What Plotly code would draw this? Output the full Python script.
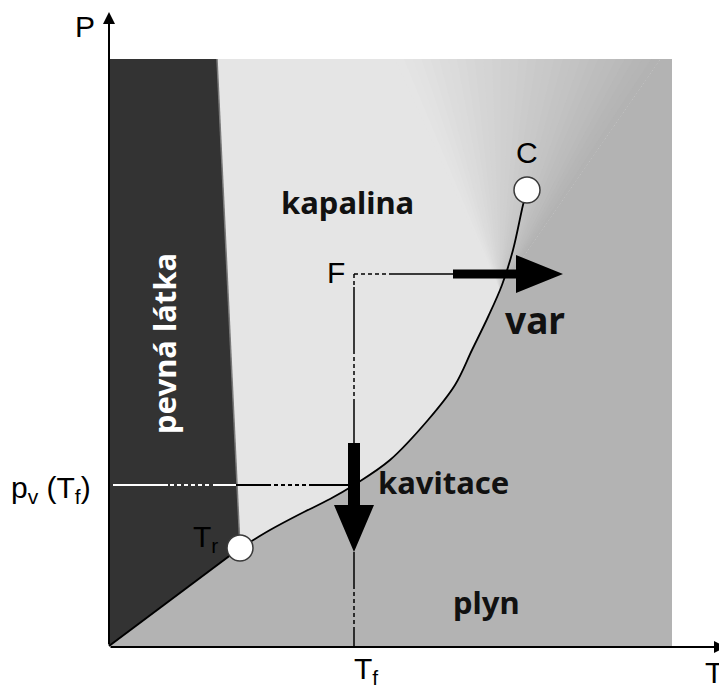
import plotly.graph_objects as go

# ---------------- data (diagram units: T horizontal, P vertical) ----------------
T_RANGE = [-101, 618]              # visible T range (axis origin at 0)
P_RANGE = [-45, 638]               # visible P range (axis origin at 0)
T_FIELD, P_FIELD = 563, 587        # extent of the shaded phase field

triple_T, triple_P = 131, 98       # triple point Tr
crit_T, crit_P = 418, 456          # critical point C

sub_T = [0, 131]                   # sublimation curve
sub_P = [0, 98]
melt_T = [131, 108]                # melting curve
melt_P = [98, 587]
vap_T = [131, 146, 161, 191, 221, 245, 281, 319, 346, 363, 379, 393, 404, 414, 418]
vap_P = [98, 107, 116, 132, 147, 161, 186, 226, 261, 296, 329, 361, 396, 441, 456]

F_T, F_P = 245, 372                # state point F
T_f = 245
p_v = 161

# supercritical blend fan (apex on the curve, edge along top)
fan_apex = (391, 356)
fan_top_T = [286 + i * (551 - 286) / 30 for i in range(31)]

# thin guide segments: (from, to, dash)
vert_segments = [(372, 359, "dash"), (359, 296, "solid"), (296, 246, "dash"),
                 (246, 203, "solid"), (94, 61, "solid"), (61, 18, "dash"), (18, 0, "solid")]
horiz_segments = [(245, 283, "dash"), (283, 344, "solid")]
pv_segments = [(4, 59, "solid", "white"), (61, 103, "dash", "white"), (104, 127, "solid", "white"),
               (127, 158, "solid", "black"), (158, 201, "dash", "black"), (201, 245, "solid", "black")]

# thick arrows (bar start, head base, head tip, bar half width, head half width)
arrow_h = (344, 407, 454, 4.5, 19)
arrow_v = (203, 141, 94, 6, 20)

C_DARK = "#333333"
C_LIQ = (229, 229, 229)
C_GAS = (179, 179, 179)

fig = go.Figure()

def poly(xs, ys, color):
    fig.add_trace(go.Scatter(x=xs, y=ys, fill="toself", fillcolor=color, mode="lines",
                             line=dict(width=0, color=color), hoverinfo="skip"))

def seg(xs, ys, color, width=1.5, dash="solid", shape="linear"):
    fig.add_trace(go.Scatter(x=xs, y=ys, mode="lines", hoverinfo="skip",
                             line=dict(color=color, width=width, dash=dash, shape=shape)))

# gas field
poly([0, T_FIELD, T_FIELD, 0], [0, 0, P_FIELD, P_FIELD], "rgb(179,179,179)")
# liquid field
liq_T = [melt_T[1], crit_T, crit_T] + vap_T[::-1][1:] + [melt_T[0]]
liq_P = [P_FIELD, P_FIELD, crit_P] + vap_P[::-1][1:] + [melt_P[0]]
poly(liq_T, liq_P, "rgb(229,229,229)")
# supercritical gradient fan
n = len(fan_top_T) - 1
for k in range(n):
    t = k / (n - 1)
    c = tuple(round(C_LIQ[j] + (C_GAS[j] - C_LIQ[j]) * t) for j in range(3))
    poly([fan_apex[0], fan_top_T[k], fan_top_T[-1]],
         [fan_apex[1], P_FIELD, P_FIELD], "rgb(%d,%d,%d)" % c)
# solid field
poly([0, 0, melt_T[1], melt_T[0], 0], [0, P_FIELD, melt_P[1], melt_P[0], 0], C_DARK)
seg(melt_T, melt_P, "#7a7a7a", 1.5)

# phase boundaries
seg(sub_T, sub_P, "black", 2)
seg(vap_T, vap_P, "black", 1.8, shape="spline")

dash_pat = "4px,3px"
for a, b, d in vert_segments:
    seg([F_T, F_T], [a, b], "black", 1.5, dash_pat if d == "dash" else "solid")
for a, b, d in horiz_segments:
    seg([a, b], [F_P, F_P], "black", 1.5, dash_pat if d == "dash" else "solid")
for a, b, d, col in pv_segments:
    seg([a, b], [p_v, p_v], col, 2, dash_pat if d == "dash" else "solid")

# thick arrows
s, hb, tip, bw, hw = arrow_h
poly([s, hb, hb, tip, hb, hb, s], [F_P - bw, F_P - bw, F_P - hw, F_P, F_P + hw, F_P + bw, F_P + bw], "black")
s, hb, tip, bw, hw = arrow_v
poly([T_f - bw, T_f - bw, T_f - hw, T_f, T_f + hw, T_f + bw, T_f + bw], [s, hb, hb, tip, hb, hb, s], "black")

# triple and critical points
fig.add_trace(go.Scatter(x=[triple_T, crit_T], y=[triple_P, crit_P], mode="markers", hoverinfo="skip",
                         marker=dict(size=26, color="white", line=dict(color="#3a3a3a", width=1.5))))

plain = dict(family="Liberation Sans, Arial, sans-serif", size=30, color="black")
bold = dict(family="Noto Sans, DejaVu Sans, sans-serif", size=31, color="#111111")

def label(x, y, text, font, angle=0):
    fig.add_annotation(x=x, y=y, xref="x", yref="y", text=text, showarrow=False,
                       font=font, textangle=angle, xanchor="center", yanchor="middle")

label(-24, 620, "P", plain)
label(605, -26, "T", plain)
label(257, -24, "T<sub>f</sub>", plain)
label(-58, 157, "p<sub>v</sub> (T<sub>f</sub>)", plain)
label(96, 108, "T<sub>r</sub>", plain)
label(227, 374, "F", plain)
label(418, 494, "C", plain)
label(238, 444, "<b>kapalina</b>", bold)
label(426, 327, "<b>var</b>", dict(bold, size=37))
label(334, 164, "<b>kavitace</b>", bold)
label(377, 44, "<b>plyn</b>", bold)
label(55, 302, "<b>pevná látka</b>", dict(bold, color="white"), angle=-90)

# axes with arrowheads
fig.add_annotation(x=0, y=634, ax=0, ay=0, xref="x", yref="y", axref="x", ayref="y", text="",
                   showarrow=True, arrowhead=2, arrowsize=1.2, arrowwidth=2, arrowcolor="black")
fig.add_annotation(x=617, y=-1, ax=0, ay=-1, xref="x", yref="y", axref="x", ayref="y", text="",
                   showarrow=True, arrowhead=2, arrowsize=1.2, arrowwidth=2, arrowcolor="black")

# the page adds an 8 px body margin, so the figure is 719 x 683
fig.update_layout(
    width=719, height=683, showlegend=False,
    margin=dict(l=0, r=0, t=0, b=0),
    paper_bgcolor="white", plot_bgcolor="white",
    xaxis=dict(range=T_RANGE, visible=False, fixedrange=True),
    yaxis=dict(range=P_RANGE, visible=False, fixedrange=True),
)

fig.write_html("out.html")
